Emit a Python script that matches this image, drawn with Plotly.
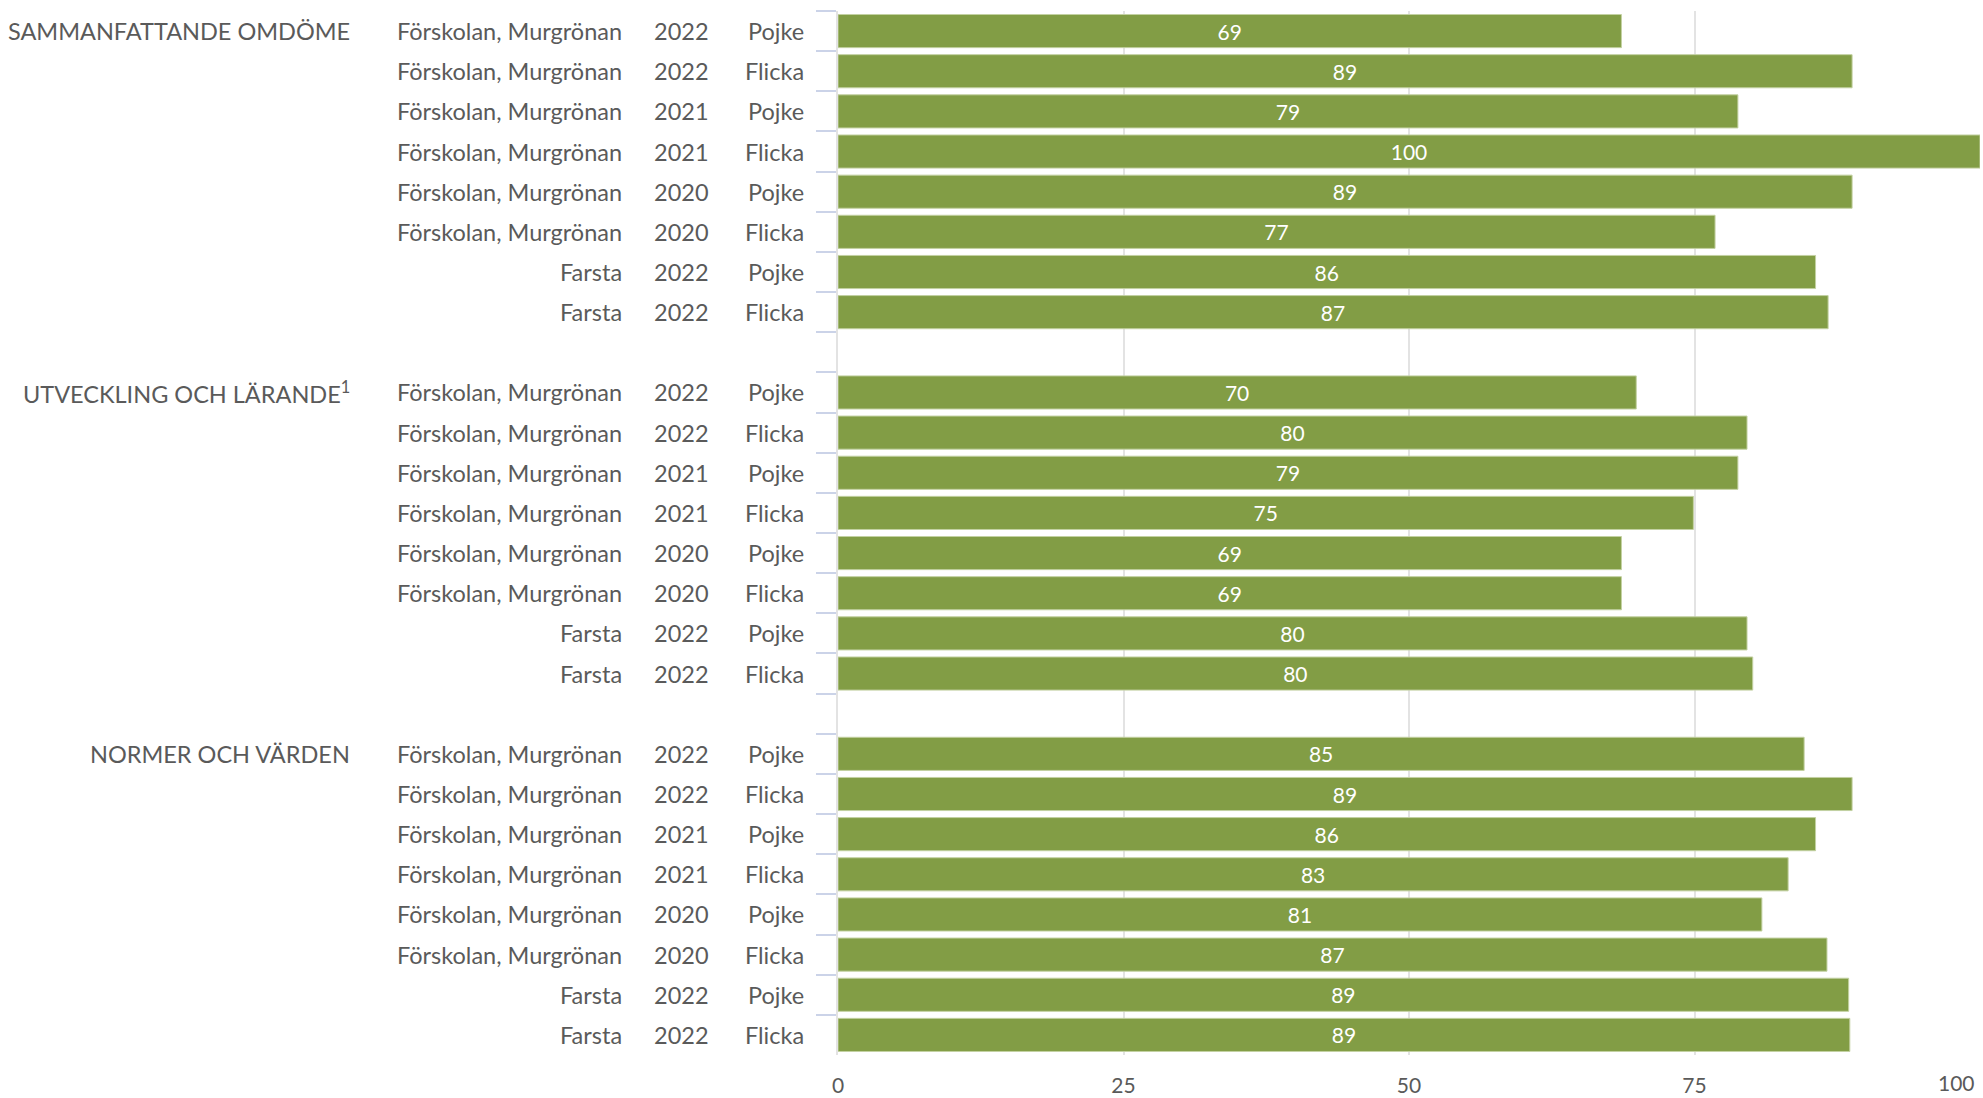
import plotly.graph_objects as go

# ---------------- data ----------------
groups = ["SAMMANFATTANDE OMDÖME", "UTVECKLING OCH LÄRANDE<sup>1</sup>", "NORMER OCH VÄRDEN"]
schools = ["Förskolan, Murgrönan"] * 6 + ["Farsta"] * 2
years = ["2022", "2022", "2021", "2021", "2020", "2020", "2022", "2022"]
genders = ["Pojke", "Flicka", "Pojke", "Flicka", "Pojke", "Flicka", "Pojke", "Flicka"]

values_sammanfattande = [68.6, 88.8, 78.8, 100.0, 88.8, 76.8, 85.6, 86.7]
values_utveckling = [69.9, 79.6, 78.8, 74.9, 68.6, 68.6, 79.6, 80.1]
values_normer = [84.6, 88.8, 85.6, 83.2, 80.9, 86.6, 88.5, 88.6]
group_values = [values_sammanfattande, values_utveckling, values_normer]

x_ticks = [0, 25, 50, 75, 100]

# ---------------- styles ----------------
BAR = "#829d45"
TXT = "#5a5a5a"
FONT = "Lato"
FS_LABEL = 23.5
FS_BAR = 21

# ---------------- build categories ----------------
all_cats, bar_cats, bar_vals = [], [], []
row_info = []
for gi, g in enumerate(groups):
    for ri in range(len(schools)):
        cat = f"g{gi}r{ri}"
        all_cats.append(cat)
        bar_cats.append(cat)
        bar_vals.append(group_values[gi][ri])
        row_info.append((gi, ri, cat))
    if gi < len(groups) - 1:
        all_cats.append(f"gap{gi}")

fig = go.Figure()
fig.add_trace(go.Bar(
    x=bar_vals, y=bar_cats, orientation="h",
    marker=dict(color=BAR, line=dict(color="#c3d1a2", width=1)),
    texttemplate="%{x:.0f}", textposition="inside", insidetextanchor="middle",
    textangle=0, constraintext="none",
    textfont=dict(color="white", size=FS_BAR, family=FONT),
    hoverinfo="skip",
))

annotations = []
for gi, ri, cat in row_info:
    for txt, shift in ((schools[ri], -214), (years[ri], -127), (genders[ri], -32)):
        annotations.append(dict(
            x=0, xref="paper", y=cat, yref="y", text=txt, showarrow=False,
            xanchor="right", yanchor="middle", xshift=shift,
            font=dict(family=FONT, size=FS_LABEL, color=TXT)))
    if ri == 0:
        annotations.append(dict(
            x=0, xref="paper", y=cat, yref="y", text=groups[gi], showarrow=False,
            xanchor="right", yanchor="middle", xshift=-486,
            font=dict(family=FONT, size=FS_LABEL, color=TXT)))

# last x tick label is pulled inside the figure edge, as in the reference
tick_text = [str(t) for t in x_ticks[:-1]] + [""]
annotations.append(dict(
    x=x_ticks[-1], xref="x", y=0, yref="paper", text=str(x_ticks[-1]), showarrow=False,
    xanchor="right", yanchor="middle", xshift=-3, yshift=-27,
    font=dict(family=FONT, size=FS_BAR, color=TXT)))

fig.update_layout(
    width=1983, height=1098,
    margin=dict(l=838, r=3, t=11, b=43, autoexpand=False),
    paper_bgcolor="white", plot_bgcolor="white",
    bargap=0.175, showlegend=False,
    annotations=annotations,
    font=dict(family=FONT, size=FS_BAR, color=TXT),
    xaxis=dict(range=[0, 100], tickvals=x_ticks, ticktext=tick_text,
               showgrid=True, gridcolor="#e3e3e3",
               gridwidth=2, zeroline=False, showline=False, ticks="",
               ticklabelstandoff=16, ticklabeloverflow="allow", automargin=False,
               tickfont=dict(family=FONT, size=FS_BAR, color=TXT)),
    yaxis=dict(type="category", categoryorder="array", categoryarray=all_cats,
               autorange="reversed", showticklabels=False, showgrid=False,
               tickson="boundaries", ticks="outside", ticklen=20, tickwidth=2,
               tickcolor="#cbd3e8", showline=True, linecolor="#e3e3e3", linewidth=2,
               zeroline=False, automargin=False),
)

fig.write_html(
    "out.html",
    config={"displayModeBar": False},
    post_script="document.body.style.margin='0';document.body.style.overflow='hidden';",
)
